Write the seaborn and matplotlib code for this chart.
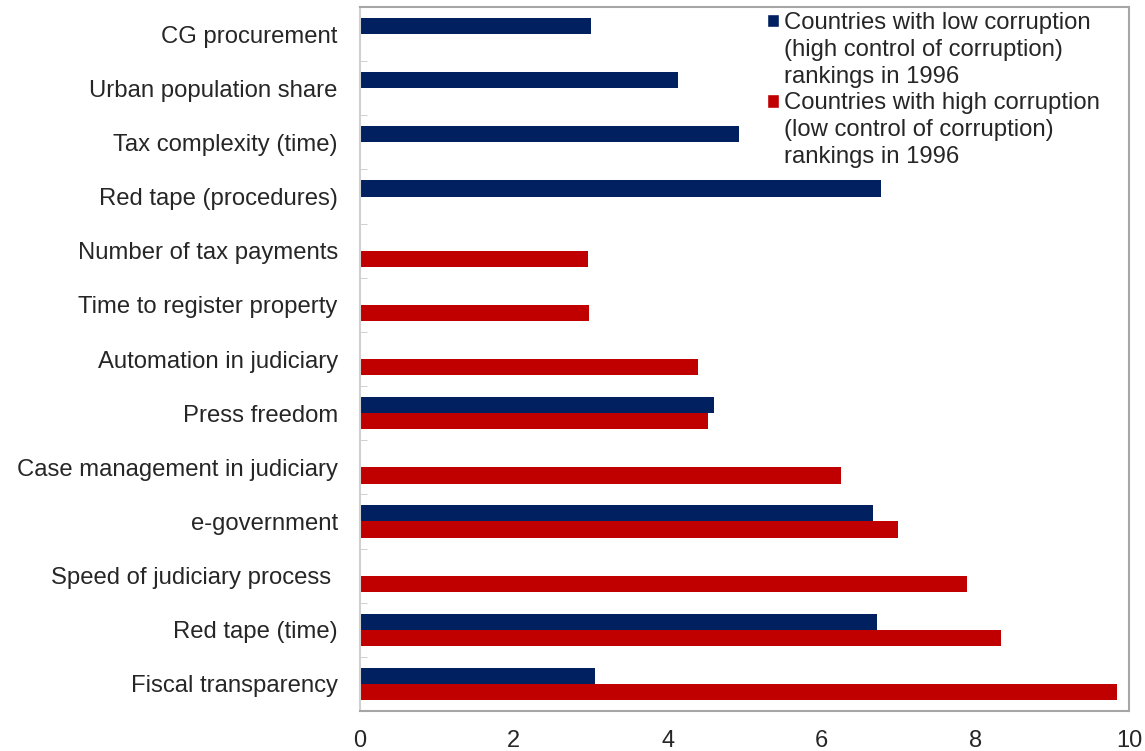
import numpy as np
import pandas as pd
import matplotlib
matplotlib.use("Agg")
import matplotlib.pyplot as plt
import seaborn as sns
from matplotlib.patches import Patch

# data
categories = [
    "CG procurement",
    "Urban population share",
    "Tax complexity (time)",
    "Red tape (procedures)",
    "Number of tax payments",
    "Time to register property",
    "Automation in judiciary",
    "Press freedom",
    "Case management in judiciary",
    "e-government",
    "Speed of judiciary process ",
    "Red tape (time)",
    "Fiscal transparency",
]
low_corruption = [3.01, 4.13, 4.93, 6.78, np.nan, np.nan, np.nan, 4.60, np.nan, 6.67, np.nan, 6.72, 3.06]
high_corruption = [np.nan, np.nan, np.nan, np.nan, 2.96, 2.98, 4.40, 4.53, 6.26, 6.99, 7.89, 8.33, 9.84]

series = ["low", "high"]
legend_low = ["Countries with low corruption", "(high control of corruption)", "rankings in 1996"]
legend_high = ["Countries with high corruption", "(low control of corruption)", "rankings in 1996"]
x_ticks = [0, 2, 4, 6, 8, 10]

BLUE = "#002060"
RED = "#C00000"
TEXT = "#262626"
FRAME = "#A6A6A6"

df = pd.DataFrame({
    "indicator": categories * 2,
    "value": low_corruption + high_corruption,
    "group": ["low"] * len(categories) + ["high"] * len(categories),
}).dropna()

sns.set_style("white")
plt.rcParams["font.family"] = ["Liberation Sans", "DejaVu Sans"]

fig = plt.figure(figsize=(11.45, 7.51), dpi=100)
ax = fig.add_axes([360 / 1145, 1 - 711 / 751, (1129 - 360) / 1145, (711 - 7) / 751])

sns.barplot(data=df, x="value", y="indicator", hue="group", order=categories,
            hue_order=series, palette=[BLUE, RED], saturation=1, orient="h", width=0.6,
            gap=0, dodge=True, errorbar=None, linewidth=0, legend=False, ax=ax)

ax.set_xlim(0, 10)
ax.set_ylim(len(categories) - 0.5, -0.5)
ax.set_xticks(x_ticks)
ax.set_xticklabels([str(t) for t in x_ticks])
ax.set_yticks(np.arange(-0.5, len(categories), 1), minor=True)
ax.set_xlabel("")
ax.set_ylabel("")

ax.tick_params(axis="x", which="major", direction="in", length=5, color=FRAME,
               labelsize=17, labelcolor=TEXT, pad=14)
ax.tick_params(axis="y", which="major", length=0, labelsize=17.2, labelcolor=TEXT, pad=16)
ax.tick_params(axis="y", which="minor", direction="in", length=5, color="#C8C8C8", left=True)

for side, sp in ax.spines.items():
    sp.set_visible(True)
    sp.set_color(FRAME)
    sp.set_linewidth(1.5)
ax.spines["left"].set_color("#D0D0D0")

# legend: one entry per text line so the square sits on the first line
blank = Patch(facecolor="none", edgecolor="none")
handles = [Patch(facecolor=BLUE), blank, blank, Patch(facecolor=RED), blank, blank]
labels = legend_low + legend_high
ax.legend(handles, labels, loc="upper left", bbox_to_anchor=(767 / 1145, 1 - 12 / 751),
          bbox_transform=fig.transFigure, frameon=False, fontsize=17.2,
          handlelength=0.5, handleheight=0.5, handletextpad=0.22,
          labelspacing=0.2, borderpad=0, borderaxespad=0, labelcolor=TEXT)

fig.savefig("out.png", dpi=100)
